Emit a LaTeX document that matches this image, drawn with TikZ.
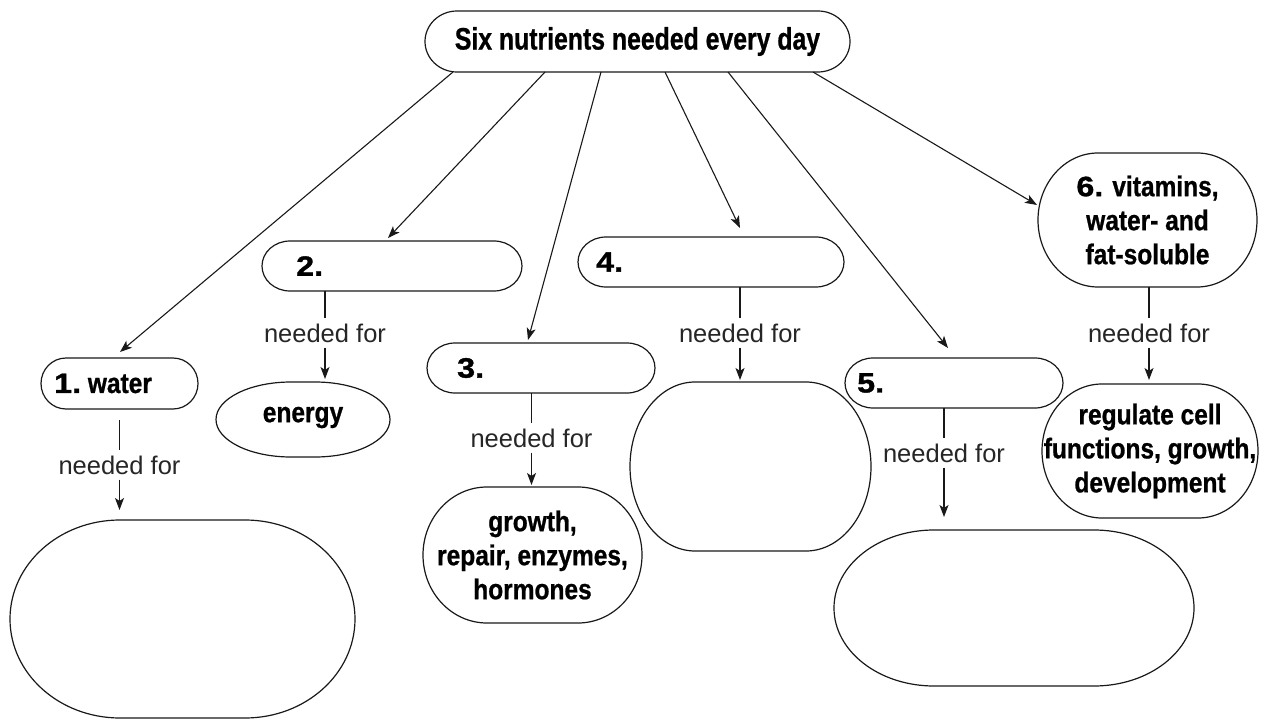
\documentclass[tikz,border=0pt]{standalone}
\usepackage{fontspec}
\setmainfont{Liberation Sans}
\newfontfamily\condf{Liberation Sans}[FakeStretch=0.86, FakeBold=0.8]
\newfontfamily\titlef{Liberation Sans}[FakeStretch=0.80, FakeBold=0.8]
\newfontfamily\numf{Liberation Sans}[FakeStretch=1.15, FakeBold=1.2]
\usetikzlibrary{arrows.meta}

\tikzset{
  box/.style={rectangle, inner sep=0pt, outer sep=0pt, draw=none, align=center,
    font=\condf\bfseries\fontsize{28.5}{34}\selectfont},
  outline/.style={line width=1.2pt, draw=black!90},
  link/.style={line width=1.1pt, draw=black!90,
    -{Stealth[length=12pt,width=9pt,inset=3pt]}},
  plain/.style={line width=1.1pt, draw=black!90},
  nf/.style={inner xsep=2pt, inner ysep=5pt, text=black!85,
    font=\fontsize{25.5}{30}\selectfont},
  numtext/.style={inner sep=0pt, anchor=west,
    font=\condf\bfseries\fontsize{28.5}{34}\selectfont},
}
% number glyphs set wide and heavy
\newcommand\nm[1]{{\numf\bfseries\fontsize{28}{34}\selectfont #1}}
% pill outline with elliptical ends around a named box
\newcommand\pilloutline[3]{%
  \draw[outline] ([shift={(#2,0)}]#1.north west) -- ([shift={(-#2,0)}]#1.north east)
    arc[start angle=90, end angle=-90, x radius=#2, y radius=#3]
    -- ([shift={(#2,0)}]#1.south west)
    arc[start angle=270, end angle=90, x radius=#2, y radius=#3] -- cycle;}

\begin{document}
\begin{tikzpicture}[x=1pt,y=1pt]
\useasboundingbox (0,0) rectangle (1266,-719);

% root
\node[box, minimum width=425pt, minimum height=61pt,
  font=\titlef\bfseries\fontsize{31}{36}\selectfont] (top) at (637.5,-41.5)
  {Six nutrients needed every day};
\pilloutline{top}{32}{30.5}

% nutrient boxes
\node[box, minimum width=157pt, minimum height=51pt] (w1) at (119.5,-383.5) {};
\pilloutline{w1}{25}{25.5}
\node[numtext] (w1t) at ([shift={(13,0)}]w1.west) {\nm{1.}\ water};

\node[box, minimum width=260pt, minimum height=50pt] (b2) at (392,-266) {};
\pilloutline{b2}{28}{25}
\node[numtext] (b2t) at ([shift={(34,0)}]b2.west) {\nm{2.}};

\node[box, minimum width=228pt, minimum height=50pt] (b3) at (541,-368) {};
\pilloutline{b3}{28}{25}
\node[numtext] (b3t) at ([shift={(30,0)}]b3.west) {\nm{3.}};

\node[box, minimum width=266pt, minimum height=50pt] (b4) at (711,-262) {};
\pilloutline{b4}{28}{25}
\node[numtext] (b4t) at ([shift={(18,0)}]b4.west) {\nm{4.}};

\node[box, minimum width=218pt, minimum height=50pt] (b5) at (954,-383) {};
\pilloutline{b5}{28}{25}
\node[numtext] (b5t) at ([shift={(12,0)}]b5.west) {\nm{5.}};

\node[box, minimum width=219pt, minimum height=134pt] (b6) at (1147.5,-220)
  {\nm{6.} vitamins,\\water- and\\fat-soluble};
\pilloutline{b6}{60}{67}

% uses
\node[box, minimum width=345pt, minimum height=198pt] (r1) at (182.5,-619) {};
\pilloutline{r1}{110}{99}

\node[box, minimum width=174pt, minimum height=75pt] (en) at (303,-419.5) {};
\pilloutline{en}{75}{37.5}
\node[inner sep=0pt, font=\condf\bfseries\fontsize{28.5}{34}\selectfont] (ent)
  at ([shift={(0,2)}]en.center) {energy};

\node[box, minimum width=219pt, minimum height=136pt] (gr) at (532.5,-555)
  {growth,\\repair, enzymes,\\hormones};
\pilloutline{gr}{64}{68}

\node[box, minimum width=241pt, minimum height=169pt] (r4) at (750.5,-466.5) {};
\pilloutline{r4}{65}{84.5}

\node[box, minimum width=360pt, minimum height=156pt] (r5) at (1014,-608) {};
\pilloutline{r5}{100}{78}

\node[box, minimum width=216pt, minimum height=134pt] (rg) at (1150,-451)
  {regulate cell\\functions, growth,\\development};
\pilloutline{rg}{60}{67}

% root to nutrients
\draw[link] ([shift={(-184.5,0)}]top.south) -- ([shift={(0.5,6)}]w1.north);
\draw[link] ([shift={(-92.5,0)}]top.south) -- ([shift={(-4,3)}]b2.north);
\draw[link] ([shift={(-36.5,0)}]top.south) -- ([shift={(-13,3)}]b3.north);
\draw[link] ([shift={(27.5,0)}]top.south) -- ([shift={(29,9)}]b4.north);
\draw[link] ([shift={(90.5,0)}]top.south) -- ([shift={(-6,10)}]b5.north);
\draw[link] ([shift={(175.5,0)}]top.south) -- ([shift={(-1,15)}]b6.west);

% "needed for" links
\node[nf] (nf1) at (119.5,-465) {needed for};
\node[nf] (nf2) at (325,-333) {needed for};
\node[nf] (nf3) at (531.5,-438) {needed for};
\node[nf] (nf4) at (740,-333) {needed for};
\node[nf] (nf5) at (944,-453) {needed for};
\node[nf] (nf6) at (1149,-333) {needed for};

\draw[plain, shorten <=11pt] (w1.south -| nf1) -- (nf1);
\draw[link, shorten >=10pt] (nf1) -- (nf1 |- r1.north);
\draw[plain] (b2.south -| nf2) -- (nf2);
\draw[link, shorten >=3pt] (nf2) -- (nf2 |- en.north);
\draw[plain] (b3.south -| nf3) -- (nf3);
\draw[link, shorten >=2pt] (nf3) -- (nf3 |- gr.north);
\draw[plain] (b4.south -| nf4) -- (nf4);
\draw[link, shorten >=2pt] (nf4) -- (nf4 |- r4.north);
\draw[plain] (b5.south -| nf5) -- (nf5);
\draw[link, shorten >=13pt] (nf5) -- (nf5 |- r5.north);
\draw[plain] (b6.south -| nf6) -- (nf6);
\draw[link, shorten >=4pt] (nf6) -- (nf6 |- rg.north);
\end{tikzpicture}
\end{document}
